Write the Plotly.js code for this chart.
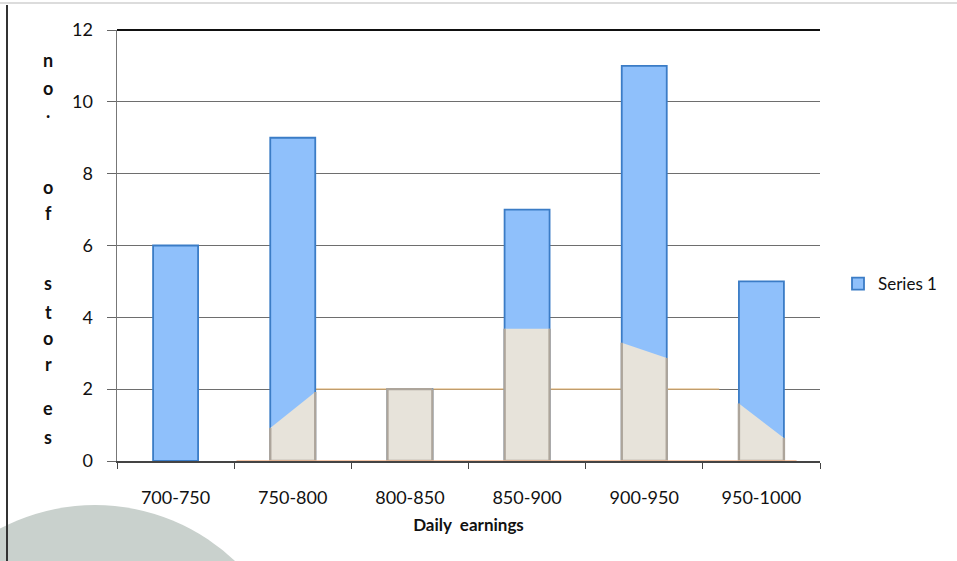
<!DOCTYPE html>
<html>
<head>
<meta charset="utf-8">
<script src="https://cdn.plot.ly/plotly-3.0.1.min.js"></script>
<style>html,body{margin:0;padding:0;background:#fff;}#chart{width:957px;height:561px;}</style>
</head>
<body>
<div id="chart"></div>
<script>
// ---- data ----
const categories = ["700-750", "750-800", "800-850", "850-900", "900-950", "950-1000"];
const storeCounts = [6, 9, 2, 7, 11, 5];
// beige overlay seen on the lower part of the bars (height at left / right bar edge)
const overlayLeft  = [0, 0.92, 2, 3.68, 3.29, 1.6];
const overlayRight = [0, 1.92, 2, 3.68, 2.87, 0.64];
const yTitleChars = ["n", "o", ".", "o", "f", "s", "t", "o", "r", "e", "s"];
const yTitleRows  = [60, 88, 111, 187, 213, 283, 312, 338, 364, 408, 437];

// ---- geometry ----
const W = 957, H = 561;
const M = {l: 117, r: 137, t: 30, b: 100};
const plotW = W - M.l - M.r, plotH = H - M.t - M.b;
const px2x = p => (p - M.l) / plotW;
const px2y = p => (H - M.b - p) / plotH;
const barW = 0.384;
const idx = categories.map((c, i) => i);

// overlay polygons built from bar positions
const ovX = [], ovY = [];
idx.forEach(i => {
  if (overlayLeft[i] <= 0 && overlayRight[i] <= 0) return;
  const L = i - barW / 2, R = i + barW / 2;
  const full = overlayLeft[i] >= storeCounts[i] && overlayRight[i] >= storeCounts[i];
  if (full) { ovX.push(R); ovY.push(overlayRight[i]); }
  ovX.push(L, L, R, R, null);
  ovY.push(overlayLeft[i], 0, 0, overlayRight[i], null);
});

const traces = [
  {
    type: "bar", name: "Series 1", x: idx, y: storeCounts, width: barW,
    marker: {color: "#8fc0fb", line: {color: "#3b7cc6", width: 1.8}},
    hoverinfo: "x+y"
  },
  {
    type: "scatter", mode: "lines", x: ovX, y: ovY, fill: "toself",
    fillcolor: "#e7e3da", line: {color: "#ada59b", width: 2.4},
    showlegend: false, hoverinfo: "skip"
  }
];

const shapes = [
  // background circle (bottom-left decoration)
  {type: "circle", xref: "paper", yref: "paper", layer: "below",
   x0: px2x(-108), x1: px2x(298), y0: px2y(911), y1: px2y(505),
   fillcolor: "#c9d1cd", line: {width: 0}},
  // left border of frame
  {type: "line", xref: "paper", yref: "paper", x0: px2x(7), x1: px2x(7), y0: px2y(561), y1: px2y(5),
   line: {color: "#333", width: 2}},
  // light top border
  {type: "line", xref: "paper", yref: "paper", x0: px2x(0), x1: px2x(957), y0: px2y(3), y1: px2y(3),
   line: {color: "#dcdcdc", width: 2}},
  // top gridline darker
  {type: "line", xref: "paper", yref: "paper", x0: 0, x1: 1, y0: 1, y1: 1,
   line: {color: "#111", width: 2}},
  // orange artefact lines
  {type: "line", xref: "x", yref: "y", layer: "between", x0: 1 + barW / 2, x1: 4.64, y0: 2, y1: 2,
   line: {color: "#dcae6e", width: 1.4}},
  {type: "line", xref: "x", yref: "y", layer: "above", x0: 0.52, x1: 5.3, y0: 0, y1: 0,
   line: {color: "#f2b48c", width: 1.3}}
];

const annotations = yTitleChars.map((ch, i) => ({
  text: "<b>" + ch + "</b>", xref: "paper", yref: "paper",
  x: px2x(48), y: px2y(yTitleRows[i]), xanchor: "center", yanchor: "middle",
  showarrow: false, font: {family: "Lato, 'Open Sans', sans-serif", size: 18, color: "#111"}
}));

const layout = {
  width: W, height: H,
  margin: M,
  paper_bgcolor: "#fff", plot_bgcolor: "rgba(0,0,0,0)",
  font: {family: "Lato, 'Open Sans', sans-serif", size: 18, color: "#111"},
  showlegend: true,
  legend: {x: px2x(838), y: px2y(284), xanchor: "left", yanchor: "middle",
           font: {size: 17, color: "#111"}, bgcolor: "rgba(0,0,0,0)"},
  xaxis: {
    range: [-0.5, 5.5], tickmode: "array", tickvals: idx, ticktext: categories,
    ticks: "", showgrid: false, zeroline: false, showline: true, linecolor: "#444", linewidth: 1.5,
    ticklabelstandoff: 20, fixedrange: true, tickfont: {size: 18},
    minor: {tickmode: "linear", tick0: -0.5, dtick: 1, ticks: "outside", ticklen: 6,
            tickcolor: "#444", tickwidth: 1, showgrid: false},
    title: {text: "<b>Daily\u00a0 earnings</b>", standoff: 12, font: {size: 17, color: "#111"}}
  },
  yaxis: {
    range: [0, 12], dtick: 2, tick0: 0, showgrid: true, gridcolor: "#6e6e6e", gridwidth: 1,
    zeroline: false, showline: true, linecolor: "#777", linewidth: 1.5, tickfont: {size: 18},
    ticks: "outside", ticklen: 9, tickcolor: "#666", ticklabelstandoff: 10, fixedrange: true
  },
  shapes: shapes,
  annotations: annotations,
  bargap: 0
};

Plotly.newPlot("chart", traces, layout, {displayModeBar: false, staticPlot: true});
</script>
</body>
</html>
